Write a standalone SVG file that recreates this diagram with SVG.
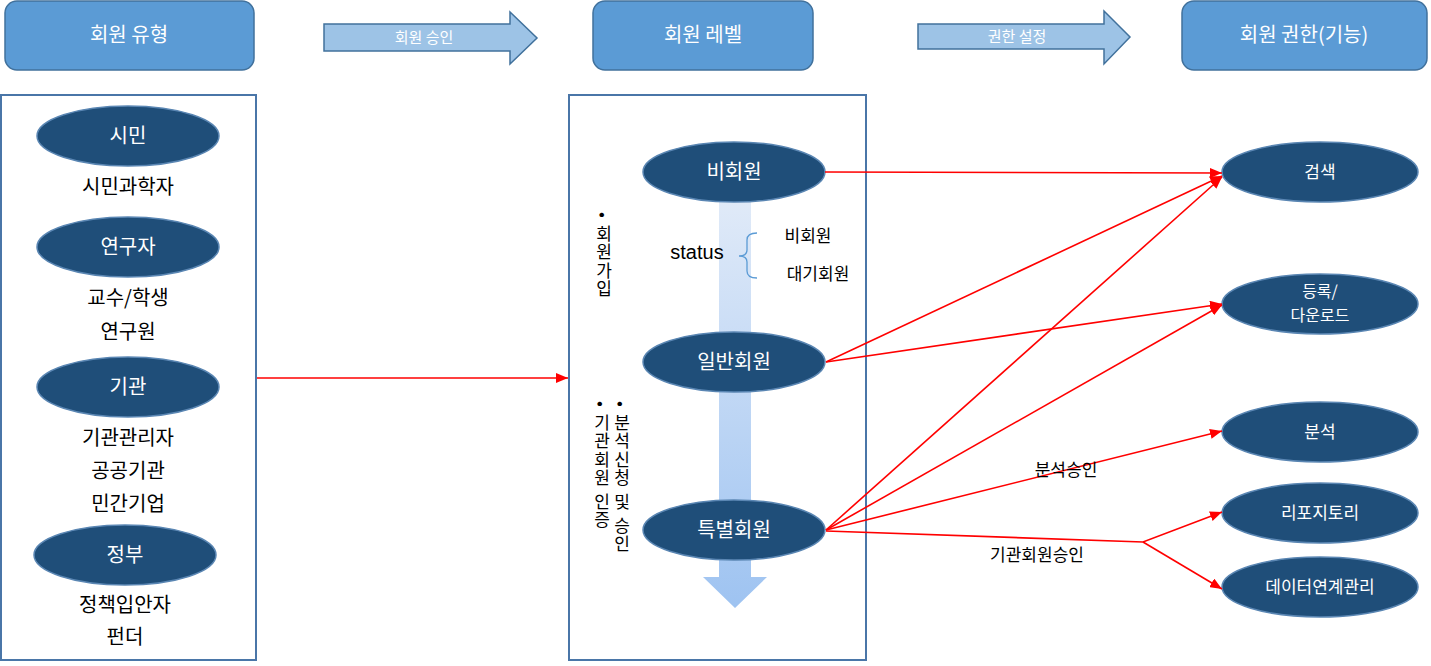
<svg xmlns="http://www.w3.org/2000/svg" width="1431" height="666" viewBox="0 0 1431 666">
<defs>
<linearGradient id="gv" x1="0" y1="0" x2="0" y2="1">
<stop offset="0" stop-color="#e0eaf8"/>
<stop offset="1" stop-color="#9ec3f1"/>
</linearGradient>
<marker id="ah" viewBox="0 0 12 10" refX="12" refY="5" markerWidth="12" markerHeight="10" markerUnits="userSpaceOnUse" orient="auto">
<path d="M0,0 L12,5 L0,10 Z" fill="#ff0000"/>
</marker>
</defs>
<style>
.hdr{fill:#5b9bd5;stroke:#41719c;stroke-width:1.5}
.harr{fill:#9dc3e6;stroke:#41719c;stroke-width:1.5}
.box{fill:#fff;stroke:#4a76a8;stroke-width:2}
.ell{fill:#1f4e79;stroke:#5a86b3;stroke-width:1.5}
.t{font-family:"Noto Sans CJK KR","Malgun Gothic",sans-serif;text-anchor:middle}
.w{fill:#fff}
.k{fill:#000}
.red{stroke:#ff0000;stroke-width:1.6;fill:none}
.vt{font-family:"Noto Sans CJK KR",sans-serif;font-size:17px;writing-mode:vertical-rl;letter-spacing:1.5px;fill:#000}
</style>

<g id="hdr-type"><rect class="hdr" x="5" y="1" width="249" height="69" rx="12"/><text class="t w" x="129" y="42" font-size="20">회원 유형</text></g>
<g id="arr-approve"><path class="harr" d="M324,24 L510,24 L510,12 L537,38 L510,64 L510,51 L324,51 Z"/><text class="t w" x="424" y="43" font-size="15">회원 승인</text></g>
<g id="hdr-level"><rect class="hdr" x="593" y="1" width="220" height="69" rx="12"/><text class="t w" x="703" y="42" font-size="20">회원 레벨</text></g>
<g id="arr-perm"><path class="harr" d="M918,24 L1104,24 L1104,11 L1130,37 L1104,64 L1104,49 L918,49 Z"/><text class="t w" x="1017" y="42" font-size="15">권한 설정</text></g>
<g id="hdr-func"><rect class="hdr" x="1182" y="1" width="245" height="69" rx="12"/><text class="t w" x="1304" y="42" font-size="20">회원 권한(기능)</text></g>

<g id="box-types"><rect class="box" x="1" y="95" width="255" height="565"/></g>
<g id="box-levels"><rect class="box" x="569" y="95" width="297" height="565"/></g>

<g id="type-citizen"><ellipse class="ell" cx="128" cy="136" rx="91" ry="30"/><text class="t w" x="128" y="143" font-size="20">시민</text><text class="t k" x="128" y="194" font-size="20">시민과학자</text></g>
<g id="type-researcher"><ellipse class="ell" cx="128" cy="247" rx="91" ry="30"/><text class="t w" x="128" y="254" font-size="20">연구자</text><text class="t k" x="128" y="305" font-size="20">교수/학생</text><text class="t k" x="128" y="339" font-size="20">연구원</text></g>
<g id="type-org"><ellipse class="ell" cx="128" cy="387" rx="91" ry="30"/><text class="t w" x="128" y="394" font-size="20">기관</text><text class="t k" x="128" y="445" font-size="20">기관관리자</text><text class="t k" x="128" y="478" font-size="20">공공기관</text><text class="t k" x="128" y="511" font-size="20">민간기업</text></g>
<g id="type-gov"><ellipse class="ell" cx="125" cy="555" rx="91" ry="30"/><text class="t w" x="125" y="562" font-size="20">정부</text><text class="t k" x="125" y="612" font-size="20">정책입안자</text><text class="t k" x="125" y="644" font-size="20">펀더</text></g>

<g id="level-flow"><path d="M719,200 L751,200 L751,577 L767,577 L735,608 L703,577 L719,577 Z" fill="url(#gv)"/></g>

<g id="level-non"><ellipse class="ell" cx="734" cy="172" rx="91" ry="30"/><text class="t w" x="734" y="179" font-size="20">비회원</text></g>
<g id="level-general"><ellipse class="ell" cx="734" cy="362" rx="91" ry="30"/><text class="t w" x="734" y="369" font-size="20">일반회원</text></g>
<g id="level-special"><ellipse class="ell" cx="734" cy="530" rx="91" ry="30"/><text class="t w" x="734" y="537" font-size="20">특별회원</text></g>

<g id="status-note">
<text class="t k" x="697" y="259" font-size="20" style="font-family:'Liberation Sans','Noto Sans',sans-serif">status</text>
<path d="M757,233 Q747,233 747,240 L747,250 Q747,256 739,256 Q747,256 747,262 L747,271 Q747,278 757,278" fill="none" stroke="#5b9bd5" stroke-width="1.3"/>
<text class="t k" x="808" y="242" font-size="17">비회원</text>
<text class="t k" x="818" y="280" font-size="17">대기회원</text>
</g>
<g id="notes-vertical">
<text class="vt" x="604" y="212">• 회원가입</text>
<text class="vt" x="622" y="401">• 분석신청 및 승인</text>
<text class="vt" x="602" y="401">• 기관회원 인증</text>
</g>

<g id="func-search"><ellipse class="ell" cx="1320" cy="172" rx="98" ry="30"/><text class="t w" x="1320" y="178" font-size="17">검색</text></g>
<g id="func-upload"><ellipse class="ell" cx="1320" cy="304" rx="98" ry="30"/><text class="t w" x="1320" y="297" font-size="16">등록/</text><text class="t w" x="1320" y="321" font-size="16">다운로드</text></g>
<g id="func-analysis"><ellipse class="ell" cx="1320" cy="432" rx="98" ry="30"/><text class="t w" x="1320" y="438" font-size="17">분석</text></g>
<g id="func-repo"><ellipse class="ell" cx="1320" cy="513" rx="98" ry="30"/><text class="t w" x="1320" y="519" font-size="17">리포지토리</text></g>
<g id="func-link"><ellipse class="ell" cx="1320" cy="587" rx="98" ry="30"/><text class="t w" x="1320" y="593" font-size="17">데이터연계관리</text></g>

<g id="connectors">
<line class="red" x1="257" y1="378" x2="568" y2="378" marker-end="url(#ah)"/>
<line class="red" x1="825" y1="172" x2="1222" y2="173" marker-end="url(#ah)"/>
<line class="red" x1="826" y1="362" x2="1222" y2="176" marker-end="url(#ah)"/>
<line class="red" x1="826" y1="362" x2="1222" y2="304" marker-end="url(#ah)"/>
<line class="red" x1="826" y1="530" x2="1222" y2="177" marker-end="url(#ah)"/>
<line class="red" x1="826" y1="530" x2="1222" y2="305" marker-end="url(#ah)"/>
<line class="red" x1="826" y1="530" x2="1222" y2="431" marker-end="url(#ah)"/>
<polyline class="red" points="826,531 1143,542 1222,512" marker-end="url(#ah)"/>
<line class="red" x1="1143" y1="542" x2="1222" y2="589" marker-end="url(#ah)"/>
<text class="t k" x="1066" y="476" font-size="17">분석승인</text>
<text class="t k" x="1037" y="561" font-size="17">기관회원승인</text>
</g>
</svg>
